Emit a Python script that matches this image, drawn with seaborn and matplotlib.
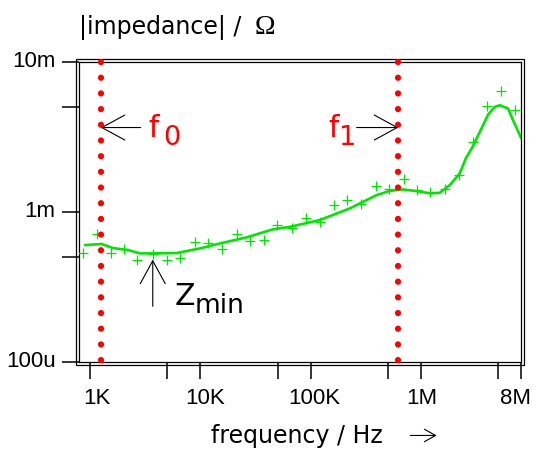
import numpy as np
import matplotlib
matplotlib.use("Agg")
import matplotlib.pyplot as plt
from matplotlib.patches import Rectangle
from matplotlib.ticker import NullFormatter
from matplotlib.transforms import ScaledTranslation
import seaborn as sns

# --- data ---
# measured |Z| points: frequency in Hz, impedance in milliohm
freq_meas = [870, 1150, 1550, 2050, 2690, 3740, 4950, 6520, 8910, 11800,
             15800, 21300, 28100, 37600, 49800, 66900, 90100, 121000, 161000, 213000,
             282000, 388000, 511000, 695000, 917000, 1.21e6, 1.63e6, 2.20e6, 2.94e6, 3.94e6,
             5.32e6, 7.02e6]
z_meas_mohm = [0.528, 0.71, 0.531, 0.561, 0.474, 0.520, 0.476, 0.489, 0.631, 0.615,
               0.564, 0.707, 0.641, 0.648, 0.822, 0.782, 0.904, 0.858, 1.109, 1.197,
               1.126, 1.490, 1.410, 1.652, 1.396, 1.346, 1.410, 1.757, 2.930, 5.09,
               6.38, 4.76]

# fitted curve
freq_fit = [901, 1275, 1615, 2208, 2832, 3715, 6095, 9886, 15000, 26180,
            45290, 64510, 120600, 225500, 277600, 393300, 518800, 684500, 905000, 1194000,
            1470000, 1810000, 2230000, 2530000, 2943000, 4030000, 4620000, 5138000, 6108000, 6780000,
            8070000]
z_fit_mohm = [0.600, 0.610, 0.573, 0.556, 0.528, 0.528, 0.531, 0.570, 0.615, 0.675,
              0.764, 0.794, 0.881, 1.054, 1.138, 1.292, 1.380, 1.410, 1.375, 1.328,
              1.339, 1.507, 1.803, 2.27, 2.75, 4.45, 5.01, 5.14, 4.89, 4.08,
              3.08]

f0_hz = 1.25e3
f1_hz = 6.2e5
arrow_z = 3.65e-3
zmin_f, zmin_z = 3.7e3, 4.8e-4

x_lim = (800, 8e6)
y_lim = (1e-4, 1e-2)
x_ticks = [1e3, 1e4, 1e5, 1e6, 8e6]
x_ticklabels = ["1K", "10K", "100K", "1M", "8M"]
x_minor = [5e3, 5e4, 5e5, 5e6]
y_ticks = [1e-4, 1e-3, 1e-2]
y_ticklabels = ["100u", "1m", "10m"]
y_minor = [5e-4, 5e-3]

# --- style ---
sns.set_style("ticks")
plt.rcParams["font.family"] = ["DejaVu Sans"]
plt.rcParams.update({"text.color": "black", "axes.labelcolor": "black",
                     "xtick.labelcolor": "black", "ytick.labelcolor": "black"})

green = "#00e600"
red = "#ff0000"


def px(v):
    # pixels -> points at dpi 100
    return v * 0.72


fig = plt.figure(figsize=(5.37, 4.5), dpi=100)
ax = fig.add_axes([0.1477, 0.1962, 0.8225, 0.6662])
ax.set(xscale="log", yscale="log")

sns.lineplot(x=freq_fit, y=np.array(z_fit_mohm) / 1000, color=green, lw=1.9, ax=ax)
sns.scatterplot(x=freq_meas, y=np.array(z_meas_mohm) / 1000, marker="+", s=50,
                color=green, linewidth=0.9, ax=ax, zorder=3)

# red dotted frequency markers
for f in (f0_hz, f1_hz):
    ax.plot([f, f], [1, 0], transform=ax.get_xaxis_transform(), color=red, lw=4.5,
            linestyle=(0, (0.01, 2.5)), dash_capstyle="round", clip_on=False, zorder=4)

ax.set_xlim(*x_lim)
ax.set_ylim(*y_lim)

# ticks
ax.set_xticks(x_ticks, labels=x_ticklabels)
ax.set_xticks(x_minor, minor=True)
ax.set_yticks(y_ticks, labels=y_ticklabels)
ax.set_yticks(y_minor, minor=True)
ax.xaxis.set_minor_formatter(NullFormatter())
ax.yaxis.set_minor_formatter(NullFormatter())
ax.tick_params(which="both", direction="out", length=12, width=1.1, color="black")
ax.tick_params(axis="both", labelsize=16, labelfontfamily="Liberation Sans",
               labelcolor="black")
ax.tick_params(axis="x", pad=7)
ax.tick_params(axis="y", pad=5)

for lab, dx in zip(ax.get_xticklabels(), [7, 5, 3, 1, -5]):
    lab.set_transform(lab.get_transform() + ScaledTranslation(dx / 100, 0, fig.dpi_scale_trans))
for lab in ax.get_yticklabels():
    lab.set_transform(lab.get_transform() + ScaledTranslation(0, 3 / 100, fig.dpi_scale_trans))

# double frame
for sp in ax.spines.values():
    sp.set_linewidth(0.9)
    sp.set_color("black")
ax.add_patch(Rectangle((-3 / 441.7, -3 / 300), 1 + 6 / 441.7, 1 + 6 / 300, transform=ax.transAxes,
                       fill=False, lw=0.9, ec="black", clip_on=False))

# annotations
arrow_kw = dict(arrowstyle="->, head_length=1.65, head_width=0.9", lw=0.8, color="black",
                shrinkA=0, shrinkB=0)
ax.annotate("", xy=(f0_hz, arrow_z), xytext=(px(40), 0), textcoords="offset points",
            arrowprops=arrow_kw)
ax.annotate("f", xy=(f0_hz, arrow_z), xytext=(px(48), px(-9.4)), textcoords="offset points",
            color=red, fontsize=21.5, ha="left", va="baseline")
ax.annotate("0", xy=(f0_hz, arrow_z), xytext=(px(63), px(-17.7)), textcoords="offset points",
            color=red, fontsize=19.5, ha="left", va="baseline")

ax.annotate("", xy=(f1_hz, arrow_z), xytext=(px(-41.7), 0), textcoords="offset points",
            arrowprops=arrow_kw)
ax.annotate("f", xy=(f1_hz, arrow_z), xytext=(px(-70), px(-9.4)), textcoords="offset points",
            color=red, fontsize=21.5, ha="left", va="baseline")
ax.annotate("1", xy=(f1_hz, arrow_z), xytext=(px(-59), px(-17.7)), textcoords="offset points",
            color=red, fontsize=19.5, ha="left", va="baseline")

ax.annotate("", xy=(zmin_f, zmin_z), xytext=(0, px(-46.7)), textcoords="offset points",
            arrowprops=arrow_kw)
ax.annotate("Z", xy=(zmin_f, zmin_z), xytext=(px(21.7), px(-45)), textcoords="offset points",
            color="black", fontsize=21.5, ha="left", va="baseline")
ax.annotate("min", xy=(zmin_f, zmin_z), xytext=(px(42), px(-53.3)), textcoords="offset points",
            color="black", fontsize=19, ha="left", va="baseline")

# axis titles
ax.text(0.0, 1.0947, "|impedance| /", transform=ax.transAxes, fontsize=17,
        ha="left", va="baseline")
ax.text(0.3966, 1.0947, "\u03a9", transform=ax.transAxes, fontsize=20,
        family="Liberation Serif", ha="left", va="baseline")
ax.set_xlabel("frequency / Hz", fontsize=17)
ax.xaxis.set_label_coords(0.492, -0.208)
ax.xaxis.label.set_va("top")
ax.annotate("", xy=(0.809, -0.246), xytext=(0.749, -0.246), xycoords="axes fraction",
            arrowprops=dict(arrowstyle="->, head_length=0.8, head_width=0.45", lw=0.8,
                            color="black", shrinkA=0, shrinkB=0), annotation_clip=False)

fig.savefig("out.png", dpi=100)
